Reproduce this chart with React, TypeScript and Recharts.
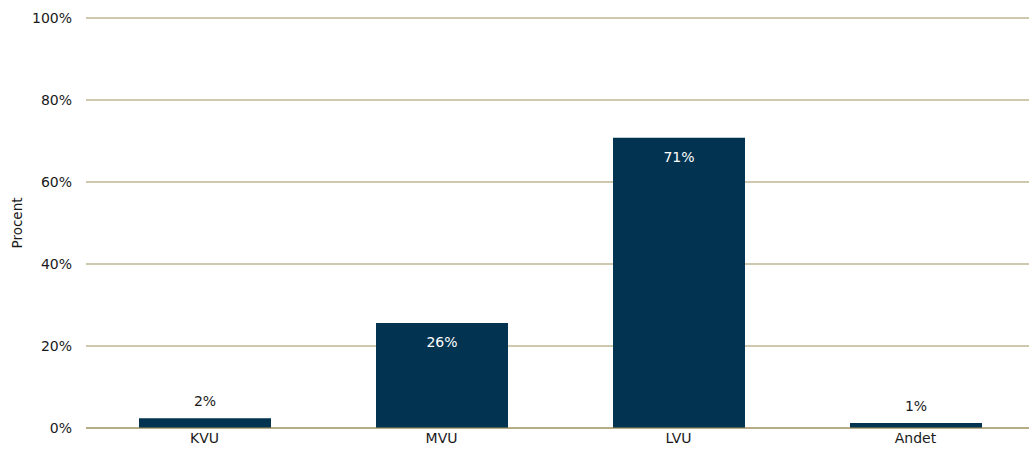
import { BarChart, Bar, XAxis, YAxis, CartesianGrid, LabelList } from "recharts";

const categories = ["KVU", "MVU", "LVU", "Andet"];
const shares = [2.4, 25.6, 70.8, 1.2];
const yTicks = [0, 20, 40, 60, 80, 100];

const data = categories.map((name, i) => ({ name, value: shares[i] }));

const FONT = "'DejaVu Sans', Verdana, sans-serif";
const BAR = "#023350";
const GRID = "#9f915d";

function ValueLabel(props: any) {
  const { x, y, width, value } = props;
  const inside = value > 10;
  return (
    <text
      x={x + width / 2}
      y={inside ? y + 19 : y - 17}
      textAnchor="middle"
      dominantBaseline="central"
      fill={inside ? "#ffffff" : "#1a1a1a"}
      fontSize={14}
      fontFamily={FONT}
    >
      {Math.round(value)}%
    </text>
  );
}

export default function App() {
  return (
    <div style={{ width: 1029, height: 452, overflow: "hidden" }}>
      <style>{"body{margin:0}"}</style>
      <BarChart
        width={1035}
        height={452}
        data={data}
        margin={{ top: 18, right: 1, left: 0, bottom: 0 }}
        barSize={132}
      >
        <CartesianGrid vertical={false} stroke={GRID} strokeWidth={1} />
        <XAxis
          dataKey="name"
          height={24}
          tickSize={0}
          tickMargin={5}
          axisLine={{ stroke: GRID }}
          tick={{ fill: "#1a1a1a", fontSize: 14, fontFamily: FONT }}
        />
        <YAxis
          width={86}
          domain={[0, 100]}
          ticks={yTicks}
          tickFormatter={(v: number) => `${v}%`}
          tickSize={0}
          tickMargin={14}
          axisLine={false}
          tick={{ fill: "#1a1a1a", fontSize: 14, fontFamily: FONT }}
          label={{
            value: "Procent",
            angle: -90,
            position: "insideLeft",
            offset: 17,
            style: { fill: "#1a1a1a", fontSize: 13.5, fontFamily: FONT, textAnchor: "middle" },
          }}
        />
        <Bar dataKey="value" fill={BAR} isAnimationActive={false}>
          <LabelList dataKey="value" content={<ValueLabel />} />
        </Bar>
      </BarChart>
    </div>
  );
}
